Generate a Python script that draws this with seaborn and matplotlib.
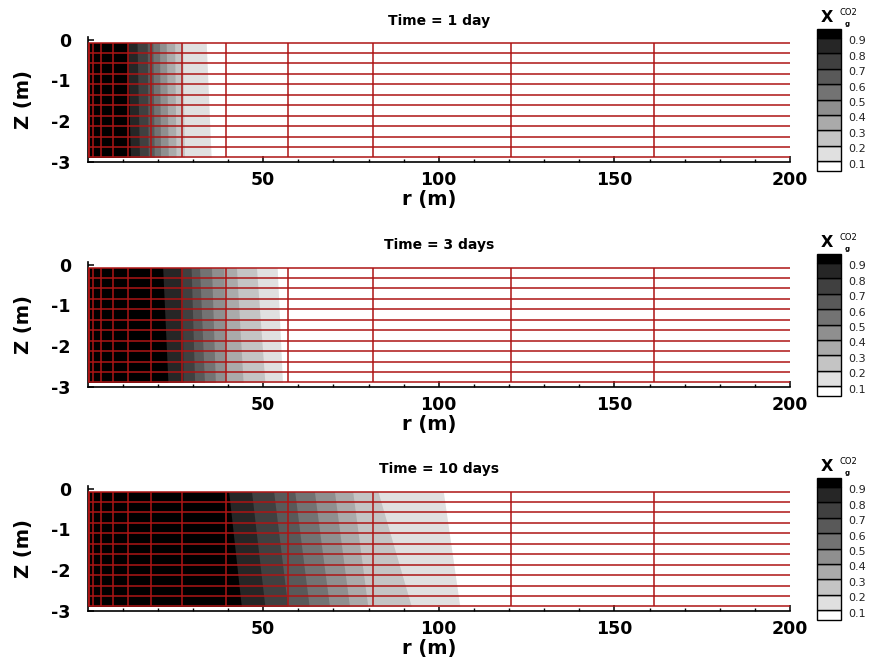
import matplotlib
matplotlib.use("Agg")
import matplotlib.pyplot as plt
import seaborn as sns

# ---------------- data ----------------
titles = ["Time = 1 day", "Time = 3 days", "Time = 10 days"]
levels = [0.9, 0.8, 0.7, 0.6, 0.5, 0.4, 0.3, 0.2, 0.1]
level_labels = ["0.9", "0.8", "0.7", "0.6", "0.5", "0.4", "0.3", "0.2", "0.1"]

# radial position (m) of each X_g^CO2 level, at the top and at the bottom of the mesh
front_top_1 = [11.4, 14.1, 17.0, 18.6, 20.5, 22.4, 24.8, 27.1, 33.8]
front_bot_1 = [12.2, 14.8, 17.3, 19.0, 20.8, 23.0, 25.2, 27.6, 35.2]
front_top_3 = [21.4, 26.9, 29.5, 31.9, 35.3, 38.8, 42.4, 48.1, 54.0]
front_bot_3 = [22.9, 27.2, 30.5, 33.3, 36.4, 39.4, 44.3, 50.5, 55.5]
front_top_10 = [40.2, 46.7, 53.0, 59.0, 64.6, 70.3, 75.5, 82.7, 101.3]
front_bot_10 = [43.8, 50.5, 57.0, 63.1, 68.9, 74.6, 79.8, 92.2, 106.0]

# mesh cell boundaries
r_grid = [0.15, 0.3, 0.45, 1.7, 3.8, 7.4, 11.4, 18.2, 26.9, 39.5, 57.1, 81.3, 120.5, 161.3]
z_grid = [-0.07, -0.33, -0.58, -0.84, -1.10, -1.36, -1.61, -1.87, -2.13, -2.39, -2.64, -2.90]

# band colours: >0.9, 0.8-0.9, ..., 0.1-0.2 (below 0.1 is white)
band_colors = ["#000000", "#262626", "#404040", "#595959", "#737373",
               "#8f8f8f", "#aaaaaa", "#c4c4c4", "#e0e0e0"]

x_ticks = [50, 100, 150, 200]
y_ticks = [0, -1, -2, -3]
y_ticklabels = ["0", "-1", "-2", "-3"]

fronts = [(front_top_1, front_bot_1), (front_top_3, front_bot_3), (front_top_10, front_bot_10)]

# ---------------- style ----------------
sns.set_style("ticks")
plt.rcParams["font.family"] = ["DejaVu Sans"]
plt.rcParams["axes.unicode_minus"] = False
for key in ["text.color", "axes.labelcolor", "xtick.color", "ytick.color"]:
    plt.rcParams[key] = "black"

W, H = 873, 662
fig = plt.figure(figsize=(W / 100, H / 100), dpi=100)
fig.patch.set_facecolor("white")

mesh_color = "#ad1515"
ax_tops = [37, 262, 486]
ax_h = 124.5
ax_left, ax_right = 87.5, 790

for k in range(3):
    top = ax_tops[k]
    bot = top + ax_h
    ax = fig.add_axes([ax_left / W, 1 - bot / H, (ax_right - ax_left) / W, ax_h / H])
    ax.set_facecolor("white")
    ft, fb = fronts[k]
    zt, zb = z_grid[0], z_grid[-1]
    # draw from the widest (lightest) band inwards
    for i in range(len(levels) - 1, -1, -1):
        ax.fill_betweenx([zt, zb], [0, 0], [ft[i], fb[i]],
                         color=band_colors[i], lw=0, zorder=1)
    # mesh
    for r in r_grid:
        ax.plot([r, r], [zt, zb], color=mesh_color, lw=1.1, zorder=3,
                solid_capstyle="butt")
    for z in z_grid:
        ax.plot([r_grid[0], 205], [z, z], color=mesh_color, lw=1.1, zorder=3)

    ax.set_xlim(0, 200)
    ax.set_ylim(-3, 0.07)
    sns.despine(ax=ax)
    for s in ["left", "bottom"]:
        ax.spines[s].set_linewidth(1.2)
        ax.spines[s].set_color("black")
    ax.set_xticks(x_ticks)
    ax.set_xticklabels([str(t) for t in x_ticks], fontweight="bold", fontsize=12.5)
    ax.set_yticks(y_ticks)
    ax.set_yticklabels(y_ticklabels, fontweight="bold", fontsize=12.5)
    ax.set_xticks([t for t in range(10, 200, 10) if t % 50 != 0], minor=True)
    ax.set_yticks([-0.25, -0.5, -0.75, -1.25, -1.5, -1.75, -2.25, -2.5, -2.75], minor=True)
    ax.tick_params(axis="both", which="major", direction="in", length=4, width=1.1, color="black")
    ax.tick_params(axis="both", which="minor", direction="in", length=2, width=1.0, color="black")
    ax.tick_params(axis="x", which="major", pad=7)
    ax.tick_params(axis="y", which="major", pad=12)
    ax.set_title(titles[k], fontsize=10, fontweight="bold", pad=9)
    ax.set_xlabel("r (m)", fontsize=14, fontweight="bold", labelpad=0)
    ax.xaxis.set_label_coords(0.487, -0.225)
    ax.set_ylabel("Z (m)", fontsize=14, fontweight="bold")
    ax.yaxis.set_label_coords(-0.078, 0.5)

    # ---- legend (Tecplot-style contour legend) ----
    lg_top = top - 7.7
    lg_bot = bot + 9
    lax = fig.add_axes([817 / W, 1 - lg_bot / H, 23.7 / W, (lg_bot - lg_top) / H])
    lax.set_xlim(0, 1)
    lax.set_ylim(0, 9.15)
    lax.axis("off")
    box_bottoms = [0.0] + [0.6 + j for j in range(8)] + [8.6]
    box_heights = [0.6] + [1.0] * 8 + [0.55]
    box_colors = ["#ffffff"] + band_colors[::-1]
    for b, h, c in zip(box_bottoms, box_heights, box_colors):
        lax.bar(0.5, h, bottom=b, width=1.0, color=c, edgecolor="black",
                linewidth=1.0, clip_on=False)
    for j, lab in enumerate(level_labels[::-1]):
        lax.text(1.3, 0.37 + j, lab, fontsize=8, va="center", ha="left",
                 color="#222222", clip_on=False)
    fig.text(826.7 / W, 1 - (lg_top - 11.6) / H, "X", fontsize=11.5,
             fontweight="bold", ha="center", va="center")
    fig.text(848 / W, 1 - (lg_top - 17) / H, "CO2", fontsize=6,
             ha="center", va="center")
    fig.text(847 / W, 1 - (lg_top - 5) / H, "g", fontsize=5,
             fontweight="bold", ha="center", va="center")

fig.savefig("out.png", dpi=100, facecolor="white")
